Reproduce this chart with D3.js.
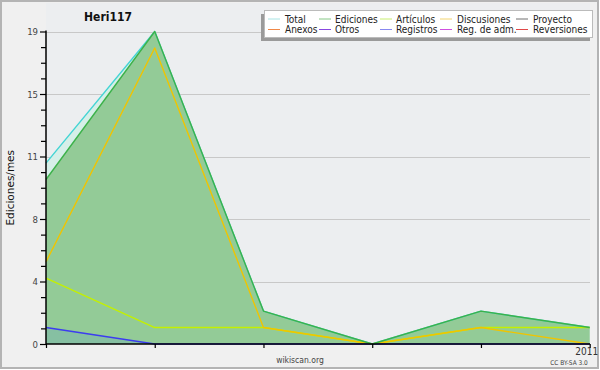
<!DOCTYPE html>
<html>
<head>
<meta charset="utf-8">
<script src="https://cdn.jsdelivr.net/npm/d3@7"></script>
<style>
  body { margin: 0; background: #fff; }
  svg { display: block; }
</style>
</head>
<body>
<svg id="chart" width="600" height="370"></svg>
<script>
// months shown on the x axis (only January gets a label)
const months = ["2010-08", "2010-09", "2010-10", "2010-11", "2010-12", "2011-01"];

const total       = [11, 19, 2, 0, 2, 1];
const ediciones   = [10, 19, 2, 0, 2, 1];
const articulos   = [4, 1, 1, 0, 1, 1];
const discusiones = [5, 18, 1, 0, 1, 0];
const registros   = [1, 0, 0, 0, 0, 0];

const legendNames = ["Total", "Ediciones", "Artículos", "Discusiones", "Proyecto",
                     "Anexos", "Otros", "Registros", "Reg. de adm.", "Reversiones"];
const legendColors = ["#a8e4e4", "#86c886", "#c8ee70", "#f2d470", "#707070",
                      "#f08848", "#8848e0", "#8888f0", "#d050e0", "#e04848"];

const yMax = 19;
const font = "'DejaVu Sans Condensed', 'DejaVu Sans', sans-serif";

const svg = d3.select("#chart");

// frame + backgrounds
svg.append("rect")
    .attr("x", 1).attr("y", 1).attr("width", 597).attr("height", 367)
    .attr("fill", "#f0f0f0").attr("stroke", "#b4b4b4").attr("stroke-width", 2);

const pLeft = 46, pRight = 590, pTop = 31.5, pBottom = 344;

svg.append("rect")
    .attr("x", pLeft).attr("y", 3).attr("width", pRight - pLeft).attr("height", pBottom - 3)
    .attr("fill", "#eceef0");

const x = d3.scaleLinear().domain([0, months.length - 1]).range([pLeft, pRight - 0.3]);
const y = d3.scaleLinear().domain([0, yMax]).range([pBottom, pTop]);

// major ticks: 5 equal steps, labels rounded
const major = d3.range(6).map(i => yMax * i / 5);
const minor = d3.range(21).map(i => yMax * i / 20).filter((d, i) => i % 4 != 0);

svg.append("g").selectAll("line").data(major.slice(1)).join("line")
    .attr("x1", pLeft).attr("x2", pRight)
    .attr("y1", d => Math.round(y(d)) + 0.5).attr("y2", d => Math.round(y(d)) + 0.5)
    .attr("stroke", "#c8c8c8").attr("stroke-width", 1);

// areas
const area = d3.area().x((d, i) => x(i)).y0(y(0)).y1(d => y(d));
const line = d3.line().x((d, i) => x(i)).y(d => y(d));

svg.append("path").datum(total).attr("d", area).attr("fill", "#d6efe8");
svg.append("path").datum(ediciones).attr("d", area).attr("fill", "#93cb97");
svg.append("path").datum(registros).attr("d", area).attr("fill", "#86c0a2");

const lines = [
    [total, "#44d4d4"],
    [articulos, "#c4f000"],
    [discusiones, "#f0c400"],
    [registros, "#3c3cf0"],
    [ediciones, "#3cb24a"],
];
lines.forEach(([data, color]) => {
    svg.append("path").datum(data).attr("d", line)
        .attr("fill", "none").attr("stroke", color).attr("stroke-width", 1.4)
        .attr("stroke-linejoin", "round");
});

// y axis
const yAxis = d3.axisLeft(y).tickValues(major).tickFormat(d => Math.round(d))
    .tickSize(6).tickPadding(2);
const ya = svg.append("g").attr("transform", `translate(${pLeft},0)`).call(yAxis);
ya.select(".domain").attr("stroke", "#000").attr("stroke-width", 1.5).attr("d", `M0,${pTop - 1}V${pBottom}`);
ya.selectAll(".tick line").attr("stroke", "#000").attr("stroke-width", 1.2);
ya.selectAll(".tick text").attr("font-family", font).attr("font-size", 9.5).attr("fill", "#444");

svg.append("g").attr("transform", `translate(${pLeft},0)`)
    .call(d3.axisLeft(y).tickValues(minor).tickFormat("").tickSize(5))
    .call(g => g.select(".domain").remove())
    .selectAll(".tick line").attr("stroke", "#000").attr("stroke-width", 1.2);

// x axis
const xAxis = d3.axisBottom(x).tickValues(d3.range(months.length))
    .tickFormat(i => months[i].endsWith("-01") ? months[i].slice(0, 4) : "")
    .tickSize(4).tickPadding(0);
const xa = svg.append("g").attr("transform", `translate(0,${pBottom})`).call(xAxis);
xa.select(".domain").attr("stroke", "#000").attr("stroke-width", 1.5).attr("d", `M${pLeft},0H${pRight}`);
xa.selectAll(".tick line").attr("stroke", "#000").attr("stroke-width", 1.2);
xa.selectAll(".tick text").attr("font-family", font).attr("font-size", 10).attr("fill", "#333")
    .attr("text-anchor", "end").attr("x", 8);

// texts
svg.append("text").attr("x", 108).attr("y", 21).attr("text-anchor", "middle")
    .attr("font-family", font).attr("font-weight", "bold").attr("font-size", 12)
    .attr("fill", "#111").text("Heri117");

svg.append("text")
    .attr("transform", `translate(14,${(pTop + pBottom) / 2}) rotate(-90)`)
    .attr("text-anchor", "middle").attr("font-family", "'DejaVu Sans', sans-serif")
    .attr("font-size", 10.5).attr("fill", "#111").text("Ediciones/mes");

svg.append("text").attr("x", 300).attr("y", 363).attr("text-anchor", "middle")
    .attr("font-family", font).attr("font-size", 8.5).attr("fill", "#444").text("wikiscan.org");

svg.append("text").attr("x", 569).attr("y", 365).attr("text-anchor", "middle")
    .attr("font-family", font).attr("font-size", 6.5).attr("fill", "#444").text("CC BY-SA 3.0");

// legend (box with a shadow)
const lg = svg.append("g");
lg.append("rect").attr("x", 261).attr("y", 14).attr("width", 329).attr("height", 27).attr("fill", "#9a9a9a");
lg.append("rect").attr("x", 264.5).attr("y", 10.5).attr("width", 328).attr("height", 27)
    .attr("fill", "#fff").attr("stroke", "#bbb");

const colX = [268, 319, 380, 440, 516];
const textX = [285, 335, 396, 457, 533];
legendNames.forEach((name, i) => {
    const c = i % 5, r = Math.floor(i / 5);
    const yy = 19 + r * 10.5;
    lg.append("line").attr("x1", colX[c]).attr("x2", colX[c] + 12)
        .attr("y1", yy).attr("y2", yy)
        .attr("stroke", legendColors[i]).attr("stroke-width", 1);
    lg.append("text").attr("x", textX[c]).attr("y", yy + 3.5)
        .attr("font-family", font).attr("font-size", 10).attr("fill", "#222").text(name);
});
</script>
</body>
</html>
